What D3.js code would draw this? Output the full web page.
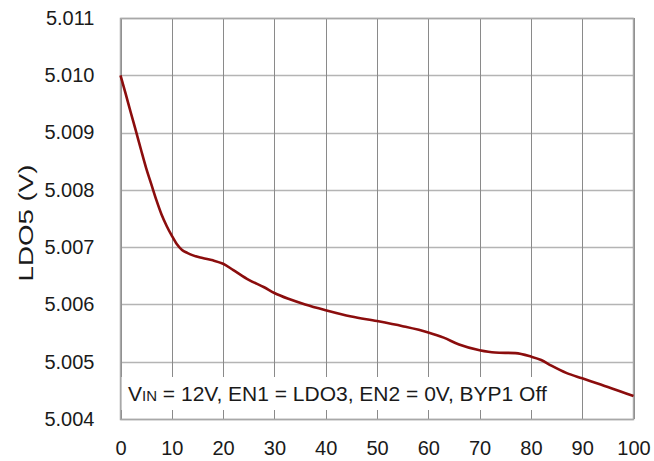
<!DOCTYPE html>
<html><head><meta charset="utf-8">
<script src="https://cdn.jsdelivr.net/npm/d3@7"></script>
<style>body{margin:0;background:#fff;}svg{display:block;font-family:"Liberation Sans",Arial,sans-serif;}</style>
</head><body>
<svg id="c" width="654" height="461"></svg>
<script>
const xVals = [0,1,2,3,4,5,6,7,8,9,10,11,12,13,14,16,18,20,22,25,28,30,33,36,40,45,50,55,60,63,66,70,73,77,80,82,84,87,90,95,100];
const ldo5 = [5.0100,5.00968,5.00935,5.00903,5.00870,5.00838,5.00810,5.00782,5.00757,5.00737,5.00720,5.00705,5.00695,5.00690,5.00686,5.00681,5.00677,5.00671,5.00660,5.00643,5.00630,5.00620,5.00609,5.00600,5.00590,5.00579,5.00571,5.00562,5.00551,5.00542,5.00530,5.00520,5.00516,5.00515,5.00509,5.00503,5.00493,5.00480,5.00471,5.00456,5.00440];
const xTicks = [0,10,20,30,40,50,60,70,80,90,100];
const yTicks = [5.004,5.005,5.006,5.007,5.008,5.009,5.010,5.011];
const yLabel = "LDO5 (V)";
const noteMain = "V", noteSub = "IN", noteRest = " = 12V, EN1 = LDO3, EN2 = 0V, BYP1 Off";

const svg = d3.select("#c");
const L = 120.5, R = 633.5, T = 18, B = 419;
const x = d3.scaleLinear().domain([0,100]).range([L,R]);
const y = d3.scaleLinear().domain([5.004,5.011]).range([B,T]);

// horizontal gridlines
svg.append("g").selectAll("line").data(yTicks).join("line")
  .attr("x1",L).attr("x2",R).attr("y1",d=>Math.round(y(d))+0.5).attr("y2",d=>Math.round(y(d))+0.5)
  .attr("stroke","#b4b4b4").attr("stroke-width",1.5);
// vertical gridlines
svg.append("g").selectAll("line").data(xTicks).join("line")
  .attr("y1",T).attr("y2",B).attr("x1",d=>Math.round(x(d))+0.5).attr("x2",d=>Math.round(x(d))+0.5)
  .attr("stroke","#8a8a8a").attr("stroke-width",1);
// frame
svg.append("rect").attr("x",L).attr("y",T+0.5).attr("width",R-L).attr("height",B-T)
  .attr("fill","none").attr("stroke","#a8a8a8").attr("stroke-width",1.5);

// note box
svg.append("rect").attr("x",L+1).attr("y",377).attr("width",448).attr("height",33).attr("fill","#fff");
const note = svg.append("text").attr("x",128).attr("y",401).attr("font-size",21).attr("fill","#1a1a1a");
note.append("tspan").text(noteMain);
note.append("tspan").attr("font-size",15).text(noteSub);
note.append("tspan").text(noteRest);

// curve
const line = d3.line().x((d,i)=>x(xVals[i])).y(d=>y(d)).curve(d3.curveMonotoneX);
svg.append("path").datum(ldo5).attr("d",line).attr("fill","none")
  .attr("stroke","#8b0d0d").attr("stroke-width",2.6).attr("stroke-linejoin","round");

// axes labels
const yAxis = d3.axisLeft(y).tickValues(yTicks).tickFormat(d3.format(".3f")).tickSize(0).tickPadding(26);
const gy = svg.append("g").attr("transform",`translate(${L},0)`).call(yAxis);
gy.select(".domain").remove();
gy.selectAll("text").attr("font-size",20).attr("font-family","Liberation Sans, Arial, sans-serif").attr("fill","#1a1a1a");

const xAxis = d3.axisBottom(x).tickValues(xTicks).tickFormat(d3.format("d")).tickSize(0).tickPadding(22);
const gx = svg.append("g").attr("transform",`translate(0,${B})`).call(xAxis);
gx.select(".domain").remove();
gx.selectAll("text").attr("font-size",20).attr("font-family","Liberation Sans, Arial, sans-serif").attr("fill","#1a1a1a");

svg.append("text").attr("transform","translate(33,223) rotate(-90)").attr("text-anchor","middle")
  .attr("font-size",21).attr("textLength",117).attr("lengthAdjust","spacingAndGlyphs")
  .attr("fill","#1a1a1a").text(yLabel);
</script>
</body></html>
